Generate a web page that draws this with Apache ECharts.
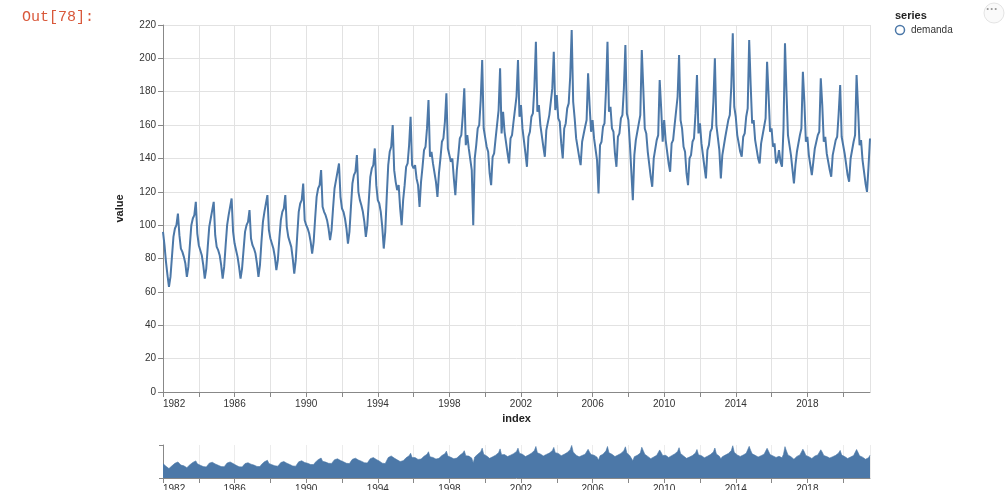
<!DOCTYPE html>
<html>
<head>
<meta charset="utf-8">
<script src="https://cdn.jsdelivr.net/npm/echarts@6/dist/echarts.min.js"></script>
<style>
  html, body { margin: 0; padding: 0; background: #ffffff; }
  #chart { width: 1006px; height: 490px; }
</style>
</head>
<body>
<div id="chart"></div>
<script>
// Monthly "demanda" series, January 1982 onwards, one row per year.
const startYear = 1982;

const demanda1980s = [
  96, 88, 78, 70, 63, 69, 81, 93, 98, 100, 107, 94,
  86, 84, 81, 77, 69, 75, 88, 100, 104, 106, 114, 95,
  88, 85, 82, 76, 68, 74, 87, 99, 104, 105, 114, 94,
  87, 85, 82, 76, 68, 75, 88, 100, 106, 107, 116, 96,
  89, 85, 81, 75, 68, 74, 85, 96, 100, 102, 109, 92,
  88, 86, 83, 77, 69, 76, 90, 102, 108, 109, 118, 97,
  92, 89, 86, 81, 73, 79, 92, 103, 108, 110, 118, 99,
  93, 90, 87, 80, 71, 79, 94, 108, 113, 115, 125, 103
];

const demanda1990s = [
  100, 98, 95, 90, 83, 90, 104, 117, 122, 124, 133, 111,
  108, 106, 103, 98, 91, 97, 110, 122, 127, 128, 137, 117,
  110, 108, 104, 98, 89, 96, 111, 125, 130, 132, 142, 120,
  115, 112, 108, 102, 93, 100, 115, 129, 134, 136, 146, 124,
  115, 113, 108, 99, 86, 96, 117, 136, 144, 147, 160, 133,
  126, 121, 124, 110, 100, 115, 124, 135, 137, 148, 165, 136,
  134, 136, 128, 124, 111, 126, 135, 145, 147, 158, 175, 141,
  144, 137, 138, 126, 117, 131, 140, 150, 152, 162, 179, 146,
  146, 138, 140, 128, 118, 133, 142, 152, 154, 166, 182, 148,
  154, 146, 145, 133, 100, 140, 148, 158, 160, 175, 199, 158
];

const demanda2000s = [
  158, 147, 144, 131, 124, 141, 143, 152, 153, 169, 194, 155,
  168, 156, 156, 143, 137, 152, 154, 162, 163, 177, 199, 165,
  172, 158, 158, 143, 135, 153, 156, 165, 167, 183, 210, 168,
  172, 160, 160, 147, 141, 157, 158, 166, 167, 182, 204, 169,
  178, 164, 162, 149, 140, 158, 161, 170, 173, 189, 217, 174,
  164, 152, 153, 141, 136, 150, 151, 159, 163, 191, 172, 156,
  163, 152, 153, 139, 119, 148, 150, 159, 161, 181, 210, 168,
  171, 158, 156, 143, 135, 153, 155, 164, 166, 182, 208, 167,
  163, 149, 149, 115, 142, 151, 151, 161, 166, 205, 182, 158,
  155, 144, 143, 129, 123, 140, 141, 151, 154, 187, 170, 150
];

const demanda2010s = [
  163, 151, 151, 137, 132, 149, 151, 160, 161, 177, 202, 163,
  158, 147, 144, 131, 124, 140, 142, 150, 152, 167, 190, 155,
  161, 149, 149, 135, 128, 145, 148, 156, 158, 174, 200, 160,
  159, 145, 128, 142, 143, 153, 154, 163, 166, 183, 215, 171,
  165, 154, 155, 144, 141, 153, 155, 165, 170, 211, 184, 161,
  163, 151, 152, 140, 137, 149, 150, 159, 164, 198, 178, 156,
  158, 147, 149, 137, 139, 145, 138, 135, 158, 209, 180, 154,
  155, 142, 141, 125, 136, 144, 145, 154, 158, 192, 174, 150,
  153, 142, 142, 130, 138, 146, 146, 154, 156, 188, 172, 150,
  153, 143, 144, 133, 129, 142, 143, 151, 153, 167, 184, 153
];

const demanda2020s = [
  153, 143, 143, 130, 126, 140, 141, 150, 154, 190, 170, 148,
  151, 139, 138, 125, 120, 135, 152
];

// Axis settings
const yMin = 0, yMax = 220, yStep = 20;
const xTickStep = 2;      // a tick / grid line every two years
const xLabelStep = 4;     // a year label every four years

const demanda = [].concat(demanda1980s, demanda1990s, demanda2000s, demanda2010s, demanda2020s);
// position each monthly value on a decimal-year axis
const points = demanda.map((v, i) => [startYear + i / 12, v]);
const xMax = startYear + (demanda.length - 1) / 12;

const FONT = '"Liberation Sans", Arial, Helvetica, sans-serif';
const BLUE = '#4c78a8';
const yearLabel = v => (Math.abs((v - startYear) % xLabelStep) < 1e-6 ? String(Math.round(v)) : '');

const chart = echarts.init(document.getElementById('chart'), null, { renderer: 'canvas' });

chart.setOption({
  animation: false,
  backgroundColor: '#ffffff',
  textStyle: { fontFamily: FONT },
  grid: [
    { left: 163, top: 25, width: 707, height: 367, outerBoundsMode: 'none' },
    // overview strip; its year labels run off the bottom edge
    { left: 163, top: 445, width: 707, height: 33, outerBoundsMode: 'none' }
  ],
  xAxis: [
    {
      gridIndex: 0, type: 'value', min: startYear, max: xMax, interval: xTickStep,
      axisLine: { show: true, onZero: false, lineStyle: { color: '#888', width: 1 } },
      axisTick: { show: true, length: 5, lineStyle: { color: '#888' } },
      splitLine: { show: true, lineStyle: { color: '#e2e2e2', width: 1 } },
      axisLabel: { formatter: yearLabel, color: '#333', fontSize: 10, margin: 7,
                   alignMinLabel: 'left', showMaxLabel: false },
      name: 'index', nameLocation: 'middle', nameGap: 18,
      nameTextStyle: { fontWeight: 'bold', fontSize: 11, color: '#222' }
    },
    {
      gridIndex: 1, type: 'value', min: startYear, max: xMax, interval: xTickStep,
      axisLine: { show: true, onZero: false, lineStyle: { color: '#888', width: 1 } },
      axisTick: { show: true, length: 5, lineStyle: { color: '#888' } },
      splitLine: { show: true, lineStyle: { color: '#ececec', width: 1 } },
      axisLabel: { formatter: yearLabel, color: '#333', fontSize: 10, margin: 6,
                   alignMinLabel: 'left', showMaxLabel: false }
    }
  ],
  yAxis: [
    {
      gridIndex: 0, type: 'value', min: yMin, max: yMax, interval: yStep,
      axisLine: { show: true, lineStyle: { color: '#888', width: 1 } },
      axisTick: { show: true, length: 5, lineStyle: { color: '#888' } },
      splitLine: { show: true, lineStyle: { color: '#e2e2e2', width: 1 } },
      axisLabel: { color: '#333', fontSize: 10, margin: 7 },
      name: 'value', nameLocation: 'middle', nameGap: 38, nameRotate: 90,
      nameTextStyle: { fontWeight: 'bold', fontSize: 11, color: '#222' }
    },
    {
      gridIndex: 1, type: 'value', min: yMin, max: yMax, interval: yMax,
      axisLine: { show: true, lineStyle: { color: '#888', width: 1 } },
      axisTick: { show: true, length: 4, lineStyle: { color: '#888' } },
      splitLine: { show: false },
      axisLabel: { show: false }
    }
  ],
  series: [
    {
      name: 'demanda', type: 'line', xAxisIndex: 0, yAxisIndex: 0,
      data: points, showSymbol: false, symbol: 'none',
      lineStyle: { color: BLUE, width: 2 }, z: 3
    },
    {
      name: 'demanda overview', type: 'line', xAxisIndex: 1, yAxisIndex: 1,
      data: points, showSymbol: false, symbol: 'none',
      lineStyle: { color: BLUE, width: 0.6 },
      areaStyle: { color: BLUE, opacity: 1 }, z: 3
    }
  ],
  graphic: [
    // notebook output prompt
    { type: 'text', left: 22, top: 10,
      style: { text: 'Out[78]:', fill: '#d9583a', font: '15px "Liberation Mono", "DejaVu Sans Mono", monospace' } },
    // legend
    { type: 'text', left: 895, top: 10,
      style: { text: 'series', fill: '#222', font: 'bold 11px ' + FONT } },
    { type: 'circle', shape: { cx: 900, cy: 30, r: 4.5 },
      style: { fill: 'none', stroke: BLUE, lineWidth: 1.5 } },
    { type: 'text', left: 911, top: 25,
      style: { text: 'demanda', fill: '#333', font: '10px ' + FONT } },
    // actions menu button
    { type: 'circle', shape: { cx: 994, cy: 13, r: 10 },
      style: { fill: '#fafafa', stroke: '#e4e4e4', lineWidth: 1 } },
    { type: 'text', left: 986, top: 4,
      style: { text: '···', fill: '#9a9a9a', font: 'bold 12px ' + FONT } }
  ]
});
</script>
</body>
</html>
